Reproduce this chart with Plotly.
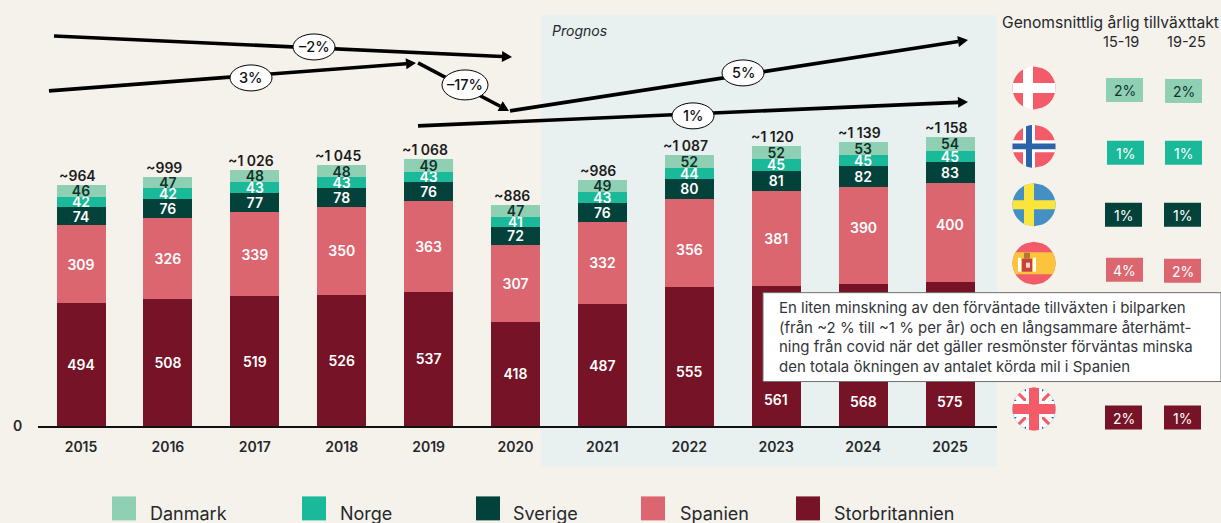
import math
import plotly.graph_objects as go

# ---------- data ----------
years = [2015, 2016, 2017, 2018, 2019, 2020, 2021, 2022, 2023, 2024, 2025]
storbritannien = [494, 508, 519, 526, 537, 418, 487, 555, 561, 568, 575]
spanien = [309, 326, 339, 350, 363, 307, 332, 356, 381, 390, 400]
sverige = [74, 76, 77, 78, 76, 72, 76, 80, 81, 82, 83]
norge = [42, 42, 43, 43, 43, 41, 43, 44, 45, 45, 45]
danmark = [46, 47, 48, 48, 49, 47, 49, 52, 52, 53, 54]
totals = [964, 999, 1026, 1045, 1068, 886, 986, 1087, 1120, 1139, 1158]
total_labels = ["~964", "~999", "~1 026", "~1 045", "~1 068", "~886", "~986",
                "~1 087", "~1 120", "~1 139", "~1 158"]
growth_15_19 = ["2%", "1%", "1%", "4%", "2%"]
growth_19_25 = ["2%", "1%", "1%", "2%", "1%"]
trend_labels = ["\u20132%", "3%", "\u201317%", "5%", "1%"]
note_lines = ["En liten minskning av den förväntade tillväxten i bilparken",
              "(från ~2 % till ~1 % per år) och en långsammare återhämt-",
              "ning från covid när det gäller resmönster förväntas minska",
              "den totala ökningen av antalet körda mil i Spanien"]

# ---------- style ----------
FONT = "Inter"
INK = "#26282b"
BG = "#f5f2ec"
C = dict(dk="#8fd0b5", no="#1ab99a", se="#03423a", es="#db666f", uk="#761326")
W, H = 1221, 523
L, R, T, B = 38, 997, 15, 426.5
STEP = 86.9
X0 = 81
# labels moved by hand in the reference (series, year): pixels up
LABEL_SHIFT = {("Storbritannien", 2022): -15, ("Storbritannien", 2023): -44,
               ("Storbritannien", 2024): -46, ("Storbritannien", 2025): -47,
               ("Spanien", 2022): -7, ("Spanien", 2024): 8, ("Spanien", 2025): 8}


def px(x):
    return (x - L) / (R - L)


def py(y):
    return (B - y) / (B - T)


shapes, notes = [], []


def text(x, y, s, size=14, color=INK, anchor="center", weight=400, italic=False):
    pad = {"left": -2, "right": 2, "center": 0}[anchor]
    notes.append(dict(xref="paper", yref="paper", x=px(x + pad), y=py(y), text=s, showarrow=False,
                      xanchor=anchor, yanchor="middle", align="left",
                      font=dict(family=FONT, size=size, color=color, weight=weight,
                                style="italic" if italic else "normal")))


def rect(x0, y0, x1, y1, fill, line=None, layer="above"):
    shapes.append(dict(type="rect", xref="paper", yref="paper", x0=px(x0), x1=px(x1), y0=py(y0), y1=py(y1),
                       fillcolor=fill, line=dict(width=1 if line else 0, color=line or fill), layer=layer))


def poly(points, fill):
    d = "M" + "L".join(f"{px(a):.5f},{py(b):.5f}" for a, b in points) + "Z"
    shapes.append(dict(type="path", xref="paper", yref="paper", path=d, fillcolor=fill, line=dict(width=0)))


def band(cx, cy, r, theta, v1, v2, fill):
    """Part of the disc lying between two parallel lines."""
    th = math.radians(theta)
    ux, uy = math.cos(th), math.sin(th)
    vx, vy = -uy, ux
    n = 24
    vs = [v1 + (v2 - v1) * i / n for i in range(n + 1)]
    pts = []
    for v in vs:
        u = math.sqrt(max(r * r - v ** 2, 0))
        pts.append((cx + u * ux + v * vx, cy + u * uy + v * vy))
    for v in reversed(vs):
        u = math.sqrt(max(r * r - v ** 2, 0))
        pts.append((cx - u * ux + v * vx, cy - u * uy + v * vy))
    poly(pts, fill)


def disc(cx, cy, r, fill):
    band(cx, cy, r, 0, -r, r, fill)


# ---------- forecast panel ----------
rect(541, 15, 997, 467, "#e8f0f0", layer="below")
text(552, 31, "Prognos", size=14, anchor="left", italic=True)

# ---------- trend arrows ----------
arrows = [((54, 36), (512, 57), (314, 47), 21, 13),
          ((49, 91), (416, 63), (251, 78), 21, 13),
          ((418, 63), (509, 111), (465, 85), 23, 15),
          ((510, 111), (968, 40), (743, 73), 21, 13),
          ((418, 126), (968, 102), (693, 116), 21, 13)]
for (start, end, mid, rx, ry), lab in zip(arrows, trend_labels):
    ang = math.atan2(end[1] - start[1], end[0] - start[0])
    cs, sn = math.cos(ang), math.sin(ang)
    neck = (end[0] - 10 * cs, end[1] - 10 * sn)
    shapes.append(dict(type="line", xref="paper", yref="paper", x0=px(start[0]), y0=py(start[1]),
                       x1=px(neck[0]), y1=py(neck[1]), line=dict(color="#000", width=3.6)))
    poly([end, (neck[0] - 5.5 * sn, neck[1] + 5.5 * cs), (neck[0] + 5.5 * sn, neck[1] - 5.5 * cs)], "#000")
    shapes.append(dict(type="circle", xref="paper", yref="paper", x0=px(mid[0] - rx), x1=px(mid[0] + rx),
                       y0=py(mid[1] - ry), y1=py(mid[1] + ry), fillcolor="#fff", line=dict(color="#000", width=1)))
    text(mid[0], mid[1], lab, size=14.5, color="#111", weight=500)

# ---------- right hand table ----------
text(1219, 23, "Genomsnittlig årlig tillväxttakt", size=15.6, anchor="right")
text(1121, 42, "15-19", size=14.5)
text(1186, 42, "19-25", size=14.5)

RED, BLUE, WHITE = "#f45b69", "#2b64a8", "#ffffff"
FX, RAD = 1034, 21.5
# Denmark
disc(FX, 88, RAD, RED)
band(FX, 88, RAD, 0, -5, 5, WHITE)
band(FX, 88, RAD, 90, 1, 11, WHITE)
# Norway
disc(FX, 146.5, RAD, RED)
band(FX, 146.5, RAD, 0, -6, 6, WHITE)
band(FX, 146.5, RAD, 90, -1, 11, WHITE)
band(FX, 146.5, RAD, 0, -2.8, 2.8, BLUE)
band(FX, 146.5, RAD, 90, 2, 8, BLUE)
# Sweden
disc(FX, 205, RAD, "#4490c4")
band(FX, 205, RAD, 0, -4.5, 4.5, "#fae53c")
band(FX, 205, RAD, 90, 0, 10, "#fae53c")
# Spain
disc(FX, 263.5, RAD, RED)
band(FX, 263.5, RAD, 0, -11, 11, "#fcc43c")
rect(1018, 258, 1021, 272, "#ffffff")
rect(1033, 258, 1036, 272, "#ffffff")
rect(1022, 259, 1032, 272, "#c9403f")
rect(1024, 253, 1030, 259, "#b5763a")
rect(1026, 263, 1030, 268, "#f2d9c0")
# UK
disc(FX, 409.5, RAD, BLUE)
band(FX, 409.5, RAD, 45, -6.5, 6.5, WHITE)
band(FX, 409.5, RAD, -45, -6.5, 6.5, WHITE)
band(FX, 409.5, RAD, 45, -1.5, 1.5, RED)
band(FX, 409.5, RAD, -45, -1.5, 1.5, RED)
band(FX, 409.5, RAD, 0, -8, 8, WHITE)
band(FX, 409.5, RAD, 90, -8, 8, WHITE)
band(FX, 409.5, RAD, 0, -5, 5, RED)
band(FX, 409.5, RAD, 90, -5, 5, RED)

badges = [(1106, 78, 1165, 79, C["dk"], "#12332b"),
          (1107, 141, 1165, 141, C["no"], "#fff"),
          (1105, 203, 1164, 203, C["se"], "#fff"),
          (1106, 258, 1164, 259, C["es"], "#fff"),
          (1105, 406, 1164, 406, C["uk"], "#fff")]
for (x1, y1, x2, y2, col, tc), a, b in zip(badges, growth_15_19, growth_19_25):
    rect(x1, y1, x1 + 37, y1 + 24, col)
    rect(x2, y2, x2 + 37, y2 + 24, col)
    text(x1 + 18.5, y1 + 12.5, a, size=14, color=tc)
    text(x2 + 18.5, y2 + 12.5, b, size=14, color=tc)

# ---------- note box ----------
rect(763, 293, 1221, 382, "#ffffff", line="#6f6f6f")
for i, line in enumerate(note_lines):
    text(779, 308 + i * 19.5, line, size=15, anchor="left", color="#33363a")

# ---------- legend ----------
legend = [("Danmark", "dk", 112, 150), ("Norge", "no", 302, 340), ("Sverige", "se", 476, 513),
          ("Spanien", "es", 641, 680), ("Storbritannien", "uk", 796, 834)]
for name, key, sx, tx in legend:
    rect(sx, 497, sx + 24, 521, C[key])
    text(tx, 514, name, size=18, anchor="left")

# ---------- bars ----------
fig = go.Figure()
series = [("Storbritannien", storbritannien, C["uk"], "#fff"),
          ("Spanien", spanien, C["es"], "#fff"),
          ("Sverige", sverige, C["se"], "#fff"),
          ("Norge", norge, C["no"], "#fff"),
          ("Danmark", danmark, C["dk"], "#12332b")]
base = [0] * len(years)
value_notes = []
for name, vals, col, tc in series:
    labels = []
    for i, (yr, v) in enumerate(zip(years, vals)):
        if (name, yr) in LABEL_SHIFT:
            labels.append("")
            value_notes.append(dict(xref="x", yref="y", x=yr, y=base[i] + v / 2, yshift=LABEL_SHIFT[(name, yr)],
                                    text=str(v), showarrow=False,
                                    font=dict(family=FONT, size=14, color=tc, weight=600)))
        else:
            labels.append(str(v))
        base[i] += v
    fig.add_bar(x=years, y=vals, name=name, marker=dict(color=col, line=dict(width=0)), width=49 / STEP,
                text=labels, textposition="inside", insidetextanchor="middle",
                textangle=0, constraintext="none", cliponaxis=False,
                insidetextfont=dict(family=FONT, size=14, color=tc, weight=600),
                hoverinfo="name+y", showlegend=False)
for yr, tot, lab in zip(years, totals, total_labels):
    value_notes.append(dict(xref="x", yref="y", x=yr, y=tot, xshift=-4, yshift=-1, yanchor="bottom", text=lab,
                            showarrow=False, font=dict(family=FONT, size=14, color="#1c1c1c", weight=600)))

fig.update_layout(
    barmode="stack", width=W, height=H, paper_bgcolor=BG, plot_bgcolor="rgba(0,0,0,0)",
    margin=dict(l=L, r=W - R, t=T, b=H - B, pad=0), autosize=False,
    shapes=shapes, annotations=notes + value_notes,
    xaxis=dict(range=[2015 - (X0 - L) / STEP, 2015 + (R - X0) / STEP], tickvals=years,
               ticktext=[str(y) for y in years], showgrid=False, zeroline=False, showline=True,
               linecolor="#111", linewidth=1.5, ticks="outside", ticklen=7, tickcolor="rgba(0,0,0,0)",
               tickfont=dict(family=FONT, size=14, color=INK, weight=600)),
    yaxis=dict(range=[0, (B - T) / 0.25], tickvals=[0], ticktext=["0"], showgrid=False, zeroline=False,
               showline=False, ticks="outside", ticklen=12, tickcolor="rgba(0,0,0,0)",
               tickfont=dict(family=FONT, size=14, color=INK, weight=600)),
)
fig.write_html("out.html", config=dict(displayModeBar=False),
               post_script="document.body.style.margin='0';document.body.style.overflow='hidden';")
